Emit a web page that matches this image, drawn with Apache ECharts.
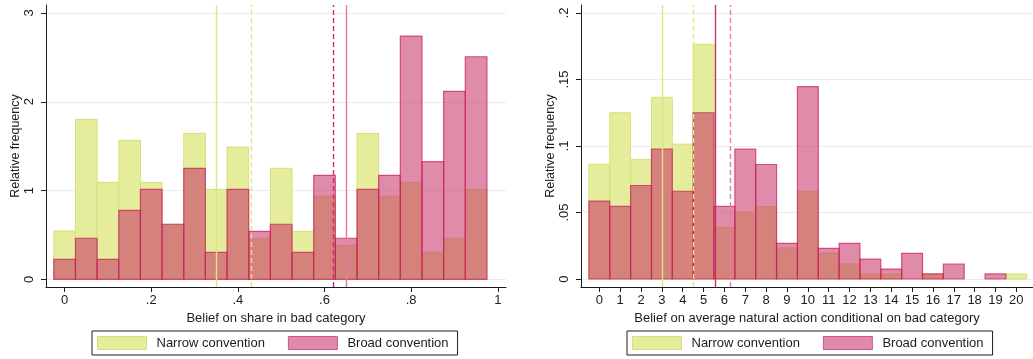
<!DOCTYPE html>
<html>
<head>
<meta charset="utf-8">
<script src="https://cdn.jsdelivr.net/npm/echarts@6/dist/echarts.min.js"></script>
<style>
  html, body { margin: 0; padding: 0; background: #fff; }
  #chart { width: 1033px; height: 359px; }
</style>
</head>
<body>
<div id="chart"></div>
<script>
// Panel 1: belief on share in bad category (bins of width 0.05, density scale)
const shareBins   = [0, 0.05, 0.1, 0.15, 0.2, 0.25, 0.3, 0.35, 0.4, 0.45, 0.5, 0.55, 0.6, 0.65, 0.7, 0.75, 0.8, 0.85, 0.9, 0.95];
const shareNarrow = [0.544, 1.80, 1.092, 1.565, 1.092, 0.62, 1.644, 1.013, 1.49, 0.462, 1.25, 0.54, 0.935, 0.383, 1.644, 0.935, 1.092, 0.304, 0.462, 1.013];
const shareBroad  = [0.225, 0.462, 0.225, 0.777, 1.013, 0.62, 1.25, 0.304, 1.013, 0.54, 0.62, 0.304, 1.171, 0.462, 1.013, 1.171, 2.74, 1.325, 2.117, 2.507];
// reference lines: [solid, dashed]
const shareLinesNarrow = [0.349, 0.4325];
const shareLinesBroad  = [0.648, 0.621];
const shareXTicks = [0, 0.2, 0.4, 0.6, 0.8, 1];
const shareYTicks = [0, 1, 2, 3];

// Panel 2: belief on average natural action conditional on bad category (unit bins)
const actionBins   = [0, 1, 2, 3, 4, 5, 6, 7, 8, 9, 10, 11, 12, 13, 14, 15, 16, 17, 18, 19, 20];
const actionNarrow = [0.0863, 0.125, 0.0898, 0.1366, 0.1014, 0.1764, 0.0388, 0.0503, 0.0546, 0.0233, 0.066, 0.0195, 0.0113, 0.0038, 0.0038, 0, 0.0038, 0, 0, 0, 0.0038];
const actionBroad  = [0.0586, 0.0546, 0.0703, 0.0976, 0.066, 0.125, 0.0546, 0.0976, 0.0861, 0.0268, 0.1446, 0.023, 0.0268, 0.015, 0.0075, 0.0193, 0.0038, 0.0113, 0, 0.0038, 0];
const actionLinesNarrow = [3.02, 4.51];
const actionLinesBroad  = [5.57, 6.30];
const actionXTicks = [0, 1, 2, 3, 4, 5, 6, 7, 8, 9, 10, 11, 12, 13, 14, 15, 16, 17, 18, 19, 20];
const actionYTicks = [0, 0.05, 0.1, 0.15, 0.2];

const NARROW = 'Narrow convention';
const BROAD = 'Broad convention';
const FONT = '"Liberation Sans", Arial, Helvetica, sans-serif';
const INK = '#1c1c1c';

const narrowStyle = { color: '#e5ec9b', borderColor: '#d6e07a', borderWidth: 1 };
const broadStyle  = { color: 'rgba(200, 40, 100, 0.54)', borderColor: 'rgba(200, 30, 90, 0.72)', borderWidth: 1.2 };

// Stata-style labels: drop the leading zero of decimals
function tickText(v) {
  if (Math.abs(v) < 1e-9) return '0';
  return String(+v.toFixed(4)).replace(/^0\./, '.');
}

function histSeries(name, bins, values, width, idx, style) {
  return {
    type: 'custom',
    name: name,
    xAxisIndex: idx,
    yAxisIndex: idx,
    itemStyle: style,
    data: bins.map((b, i) => [b, values[i]]),
    renderItem: function (params, api) {
      const x = api.value(0), y = api.value(1);
      if (!(y > 0)) return null;
      const p0 = api.coord([x - width / 2, 0]);
      const p1 = api.coord([x + width / 2, y]);
      return {
        type: 'rect',
        shape: { x: p0[0], y: p1[1], width: p1[0] - p0[0], height: p0[1] - p1[1] },
        style: api.style()
      };
    }
  };
}

function refLines(idx, narrow, broad, broadSolidColor, broadDashedColor) {
  const yel = '#dce57f';
  return {
    type: 'line',
    xAxisIndex: idx,
    yAxisIndex: idx,
    data: [],
    silent: true,
    markLine: {
      silent: true,
      symbol: 'none',
      animation: false,
      label: { show: false },
      emphasis: { disabled: true },
      data: [
        { xAxis: narrow[0], lineStyle: { color: yel, width: 1.4, type: 'solid' } },
        { xAxis: narrow[1], lineStyle: { color: yel, width: 1.4, type: [5, 3] } },
        { xAxis: broad[0], lineStyle: { color: broadSolidColor, width: 1.4, type: 'solid' } },
        { xAxis: broad[1], lineStyle: { color: broadDashedColor, width: 1.4, type: [5, 3] } }
      ]
    }
  };
}

function xAxisCfg(idx, min, max, ticks, title) {
  return {
    type: 'value', gridIndex: idx, min: min, max: max,
    name: title, nameLocation: 'middle', nameGap: 21,
    nameTextStyle: { fontFamily: FONT, fontSize: 13, color: INK },
    axisLine: { onZero: false, lineStyle: { color: INK, width: 1 } },
    axisTick: { customValues: ticks, length: 5, lineStyle: { color: INK } },
    axisLabel: { customValues: ticks, formatter: tickText, margin: 7, fontFamily: FONT, fontSize: 13, color: INK },
    splitLine: { show: false }
  };
}

function yAxisCfg(idx, min, max, ticks) {
  return {
    type: 'value', gridIndex: idx, min: min, max: max,
    name: 'Relative frequency', nameLocation: 'middle', nameGap: 24,
    nameTextStyle: { fontFamily: FONT, fontSize: 12.5, color: INK },
    axisLine: { show: true, onZero: false, lineStyle: { color: INK, width: 1 } },
    axisTick: { show: true, customValues: ticks, length: 5, lineStyle: { color: INK } },
    axisLabel: { customValues: ticks, formatter: tickText, rotate: 90, margin: 10, fontFamily: FONT, fontSize: 13, color: INK },
    splitLine: { show: true, lineStyle: { color: '#e6eff0', width: 1 } }
  };
}

function legendCfg(left) {
  return {
    left: left, top: 331,
    orient: 'horizontal',
    selectedMode: false,
    icon: 'rect',
    itemWidth: 49, itemHeight: 13, itemGap: 23,
    padding: [5, 9, 5, 5],
    borderColor: INK, borderWidth: 1,
    textStyle: { fontFamily: FONT, fontSize: 13, color: INK, padding: [0, 0, 0, 5] },
    data: [
      { name: NARROW, itemStyle: { color: '#e5ec9b', borderColor: '#d6e07a', borderWidth: 1 } },
      { name: BROAD, itemStyle: { color: '#e18bab', borderColor: '#d4508a', borderWidth: 1 } }
    ]
  };
}

const chart = echarts.init(document.getElementById('chart'), null, { renderer: 'canvas' });
chart.setOption({
  animation: false,
  backgroundColor: '#ffffff',
  grid: [
    { left: 46, top: 5, width: 460, height: 282 },
    { left: 581, top: 5, width: 459, height: 282 }
  ],
  xAxis: [
    xAxisCfg(0, -0.043, 1.019, shareXTicks, 'Belief on share in bad category'),
    xAxisCfg(1, -0.88, 20.8, actionXTicks, 'Belief on average natural action conditional on bad category')
  ],
  yAxis: [
    yAxisCfg(0, -0.087, 3.09, shareYTicks),
    yAxisCfg(1, -0.006, 0.206, actionYTicks)
  ],
  legend: [legendCfg(92), legendCfg(627)],
  series: [
    histSeries(NARROW, shareBins, shareNarrow, 0.05, 0, narrowStyle),
    histSeries(BROAD, shareBins, shareBroad, 0.05, 0, broadStyle),
    refLines(0, shareLinesNarrow, shareLinesBroad, '#e27aa3', '#c8346a'),
    histSeries(NARROW, actionBins, actionNarrow, 1, 1, narrowStyle),
    histSeries(BROAD, actionBins, actionBroad, 1, 1, broadStyle),
    refLines(1, actionLinesNarrow, actionLinesBroad, '#c8346a', '#e27aa3')
  ]
});
</script>
</body>
</html>
